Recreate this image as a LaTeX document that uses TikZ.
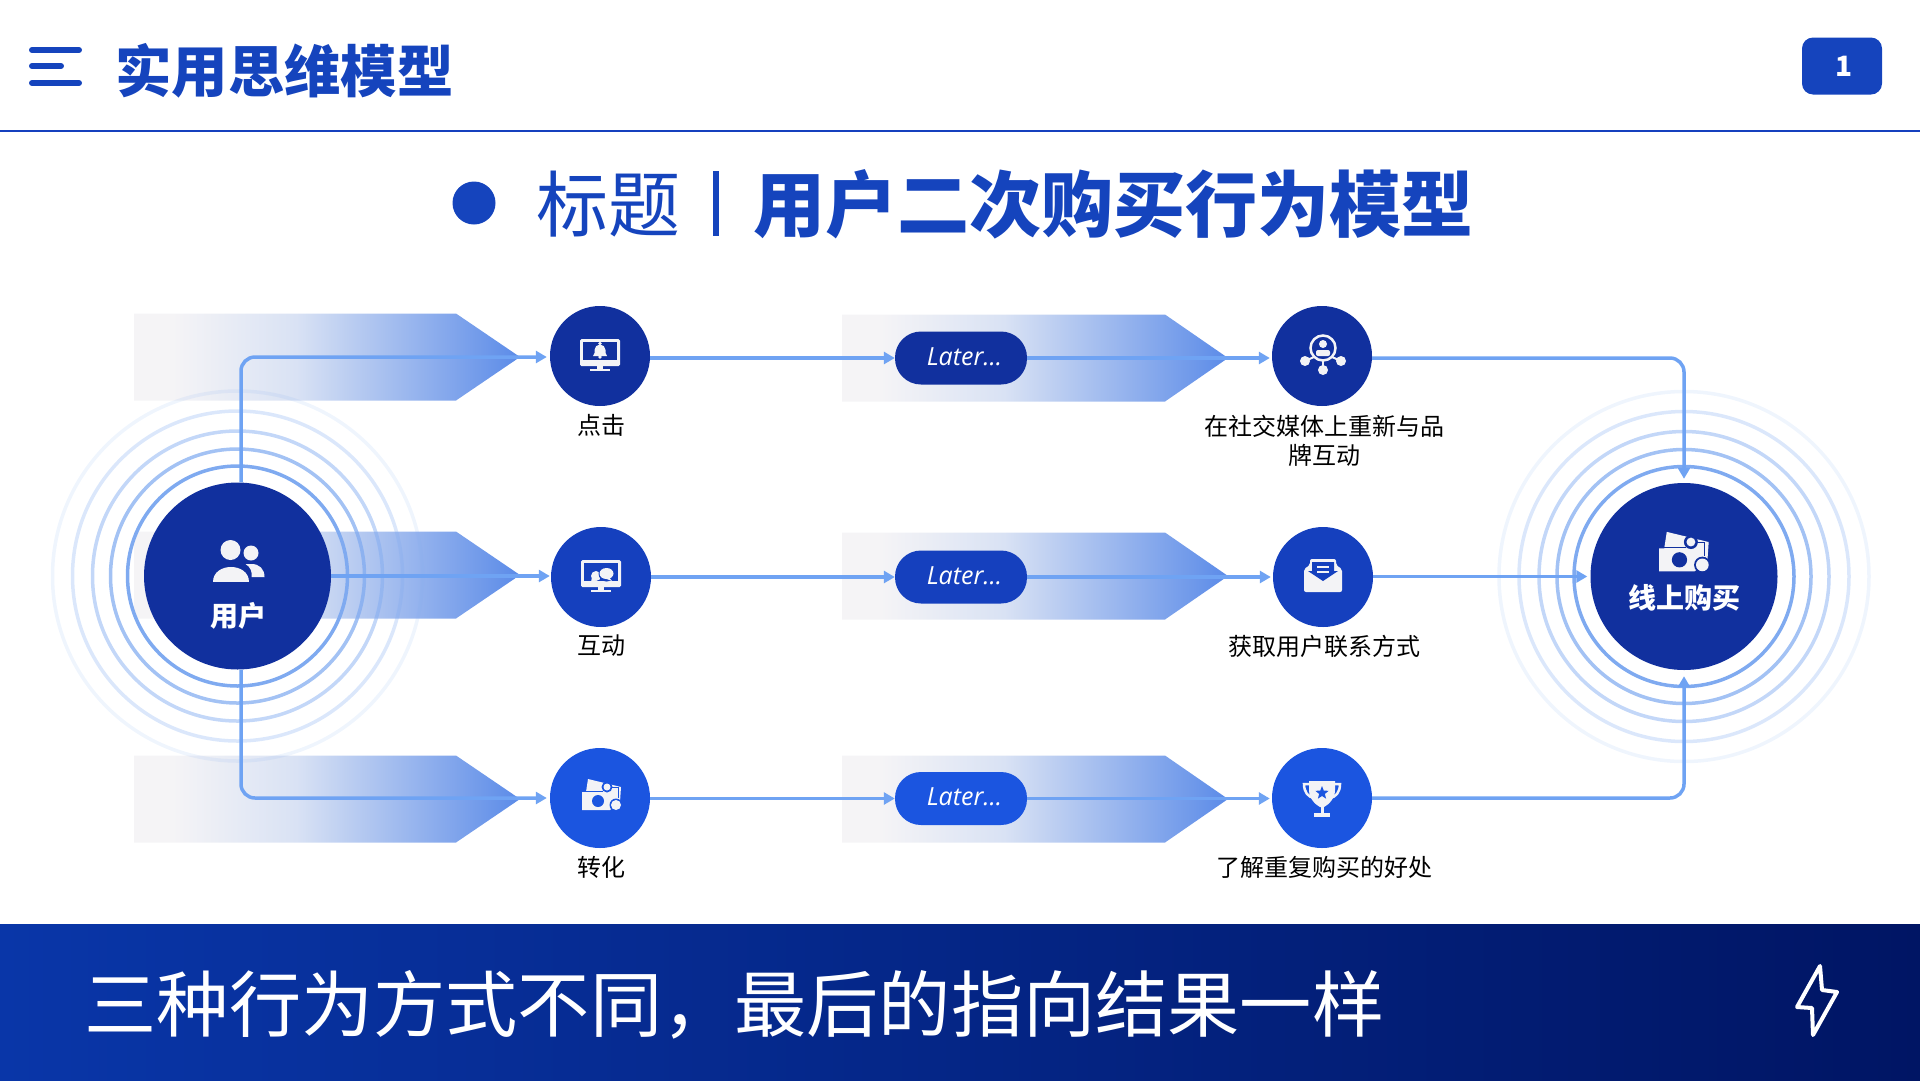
\documentclass[tikz,border=0pt]{standalone}
\usepackage{fontspec}
\usepackage{xcolor}
\setmainfont{Noto Sans CJK SC}
\newfontfamily\laterfont{Open Sans}
\usetikzlibrary{arrows.meta}

\definecolor{titleblue}{HTML}{1544BD}
\definecolor{rowa}{HTML}{11309E}
\definecolor{rowb}{HTML}{1540BE}
\definecolor{rowc}{HTML}{1B55E0}
\definecolor{linkblue}{HTML}{6FA3F3}
\definecolor{ringblue}{HTML}{7FAAF0}
\definecolor{bandlo}{HTML}{F5F4F6}
\definecolor{bandmid}{HTML}{D9E2F4}
\definecolor{bandhi}{HTML}{5B8BE8}
\definecolor{iconw}{HTML}{F3F3F6}
\definecolor{footl}{HTML}{0936A8}
\definecolor{footm}{HTML}{072F94}
\definecolor{footr}{HTML}{001564}

\pgfdeclarelayer{under}
\pgfsetlayers{under,main}
\pgfdeclarehorizontalshading{bandfade}{100bp}{color(0bp)=(bandlo); color(25bp)=(bandlo); color(30bp)=(bandlo); color(46bp)=(bandmid); color(75bp)=(bandhi); color(100bp)=(bandhi)}

\tikzset{
	dot/.style={circle,inner sep=0pt,minimum size=100pt},
	hub/.style={circle,inner sep=0pt,minimum size=187pt,fill=rowa},
	pill/.style={rectangle,rounded corners=26pt,inner sep=0pt,minimum width=132pt,minimum height=53pt,text=white,font=\laterfont\itshape\fontsize{25}{25}\selectfont},
	lab/.style={inner sep=0pt,align=center,text=black,font=\fontsize{24}{29}\selectfont},
	hublab/.style={inner sep=0pt,text=white,font=\bfseries\fontsize{28}{28}\selectfont},
	link/.style={draw=linkblue,line width=3.5pt},
	ring/.style={draw=ringblue,line width=3.5pt},
	band/.style={shading=bandfade},
	>={Triangle[length=11pt,width=12pt]}
}

\newcommand{\monitoricon}[2]{
	\begin{scope}[shift={(#1)}]
		\fill[iconw,rounded corners=1.5pt] (-20,-17) rectangle (20,10);
		\fill[#2] (-17,-14) rectangle (17,4);
		\fill[iconw] (-3,10) rectangle (3,13);
		\fill[iconw] (-10,13) rectangle (10,15);
	\end{scope}
}
\newcommand{\cashicon}[3]{
	\begin{scope}[shift={(#1)},scale=#3]
		\fill[iconw] (-12,-19) -- (21,-11) -- (20,4) -- (10,12) -- (-18,12) -- (-18,-6) -- (-14,-6) -- cycle;
		\draw[#2,line width=1pt] (-18,-6.5) -- (3,-6.5);
		\fill[#2] (-2,3) circle (6);
		\fill[#2] (7,-11) circle (5.5);
		\fill[iconw] (7,-11) circle (3.5);
		\draw[#2,line width=1pt] (12,-11) -- (18,-11) -- (18,0);
		\fill[#2] (16,7) circle (6.5);
		\fill[iconw] (16,7) circle (5);
	\end{scope}
}

\begin{document}
\begin{tikzpicture}[x=1pt,y=-1pt]
	\useasboundingbox (0,0) rectangle (1920,1080);

	% header
	\foreach \y/\e in {50/79,66/61,83/79}{
		\draw[titleblue,line width=6pt,line cap=round] (32,\y) -- (\e,\y);
	}
	\node[anchor=west,inner sep=0pt,text=titleblue,font=\bfseries\fontsize{56.4}{56.4}\selectfont] (head) at (115,71) {实用思维模型};
	\draw[draw=rowb,line width=2pt] (0,131) -- (1920,131);
	\node[fill=titleblue,rounded corners=11pt,minimum width=80pt,minimum height=57pt,inner sep=0pt,text=white,font=\bfseries\fontsize{28}{28}\selectfont] (pagenum) at (1842,66) {\hspace*{5pt}\raisebox{-4pt}{1}};

	% heading
	\fill[titleblue] (474,203) circle (21.5);
	\node[anchor=west,inner sep=0pt,text=titleblue,font=\fontsize{72}{72}\selectfont] (subj) at (536,204) {标题};
	\fill[titleblue] (713,171) rectangle (719,236);
	\node[anchor=west,inner sep=0pt,text=titleblue,font=\bfseries\fontsize{72}{72}\selectfont] (maintitle) at (753,204) {用户二次购买行为模型};

	% bands and rings
	\begin{pgfonlayer}{under}
		\foreach \y/\v in {357/358,575/576,799/799}{
			\shade[band] (134,\y-43.5) -- (456,\y-43.5) -- (520,\y) -- (456,\y+43.5) -- (134,\y+43.5) -- cycle;
			\shade[band] (842,\v-43.5) -- (1165,\v-43.5) -- (1228,\v) -- (1165,\v+43.5) -- (842,\v+43.5) -- cycle;
		}
		\foreach \r/\o in {110/1,127/.72,145/.47,165/.28,185/.12}{
			\draw[ring,opacity=\o] (237.5,576) circle (\r);
			\draw[ring,opacity=\o] (1684,576.5) circle (\r);
		}
	\end{pgfonlayer}

	% nodes
	\node[hub] (user) at (237.5,576) {};
	\node[hub] (buy) at (1684,576.5) {};

	\node[dot,fill=rowa] (click) at (600,356) {};
	\node[dot,fill=rowb] (talk) at (601,577) {};
	\node[dot,fill=rowc] (convert) at (600,798) {};

	\node[pill,fill=rowa] (latera) at (961,358) {\hspace*{7pt}\raisebox{3pt}{Later...}};
	\node[pill,fill=rowb] (laterb) at (961,577) {\hspace*{7pt}\raisebox{3pt}{Later...}};
	\node[pill,fill=rowc] (laterc) at (961,798.5) {\hspace*{7pt}\raisebox{3pt}{Later...}};

	\node[dot,fill=rowa] (social) at (1322,356) {};
	\node[dot,fill=rowb] (contact) at (1323,577) {};
	\node[dot,fill=rowc] (benefit) at (1322,798) {};

	% labels
	\node[lab] (clicklab) at (601,425) {点击};
	\node[lab] (talklab) at (601,646) {互动};
	\node[lab] (convertlab) at (601,867) {转化};
	\node[lab] (sociallab) at (1324,440.5) {在社交媒体上重新与品\\牌互动};
	\node[lab] (contactlab) at (1324,646) {获取用户联系方式};
	\node[lab] (benefitlab) at (1324,867) {了解重复购买的好处};
	\node[hublab] (userlab) at (238,616) {用户};
	\node[hublab] (buylab) at (1684,597.5) {线上购买};

	% connectors
	\draw[link,->,rounded corners=14pt] ([xshift=3.5pt]user.north) |- ([xshift=-3pt,yshift=-1pt]click.west);
	\draw[link,->] (user.east) -- ([xshift=-1pt]talk.west |- user.east);
	\draw[link,->,rounded corners=14pt] ([xshift=3.5pt]user.south) |- ([xshift=-3pt]convert.west);
	\draw[link,->] (click.east |- latera) -- (latera);
	\draw[link,->] (talk) -- (laterb);
	\draw[link,->] (convert.east |- laterc) -- (laterc);
	\draw[link,->] (latera) -- ([xshift=-2pt]social.west |- latera);
	\draw[link,->] (laterb) -- ([xshift=-2pt]contact.west);
	\draw[link,->] (laterc) -- ([xshift=-2pt]benefit.west |- laterc);
	\draw[link,->,rounded corners=14pt] (social.east |- latera) -| ([yshift=4pt]buy.north);
	\draw[link,->] (contact.east |- buy) -- ([xshift=-3pt]buy.west);
	\draw[link,->,rounded corners=14pt] (benefit.east) -| ([yshift=-6pt]buy.south);

	% icons
	\begin{scope}[shift={(user)}]
		\fill[iconw] (-7,-26) circle (10);
		\fill[iconw] (-25,6) .. controls (-25,-14) and (11,-14) .. (11,6) -- cycle;
		\fill[iconw] (13.5,-23) circle (7.5);
		\fill[iconw] (14,-12) .. controls (22,-12) and (27,-7) .. (27,1) -- (14,1) .. controls (15,-4) and (13,-9) .. (8,-12) -- cycle;
	\end{scope}
	\cashicon{1682,556}{rowa}{1.27}
	\monitoricon{click}{rowa}
	\begin{scope}[shift={(click)}]
		\fill[iconw] (0,-12.5) circle (1.8);
		\fill[iconw] (-7,0) .. controls (-5,-2) and (-5.5,-4) .. (-5.5,-6) .. controls (-5.5,-9) and (-3,-11.5) .. (0,-11.5) .. controls (3,-11.5) and (5.5,-9) .. (5.5,-6) .. controls (5.5,-4) and (5,-2) .. (7,0) -- cycle;
		\fill[iconw] (0,1) circle (1.8);
	\end{scope}
	\monitoricon{talk}{rowb}
	\begin{scope}[shift={(talk)}]
		\fill[iconw] (-5,-1) circle (5);
		\fill[iconw] (-9,0) -- (-10,5) -- (-4,3) -- cycle;
		\fill[rowb] (5.5,-3.5) circle (8);
		\fill[iconw] (5.5,-3.5) ellipse (7 and 5.5);
		\fill[iconw] (8,0) -- (11,4) -- (3,1) -- cycle;
	\end{scope}
	\cashicon{convert}{rowc}{1}
	\begin{scope}[shift={(social)}]
		\draw[iconw,line width=2.5pt] (1,-8) circle (12.5);
		\fill[iconw] (1,-12) circle (4);
		\fill[iconw,rounded corners=2pt] (-6,-6) rectangle (8,0);
		\draw[iconw,line width=2pt] (-17,5) -- (-8,1);
		\draw[iconw,line width=2pt] (19,5) -- (10,1);
		\draw[iconw,line width=2pt] (1,5) -- (1,14);
		\fill[iconw] (-17,5) circle (5);
		\fill[iconw] (19,5) circle (5);
		\fill[iconw] (1,14) circle (5);
	\end{scope}
	\begin{scope}[shift={(contact)}]
		\fill[iconw,rounded corners=2pt] (-19,-8) -- (-13,-12) -- (-13,-18) -- (13,-18) -- (13,-12) -- (19,-8) -- (19,15) -- (-19,15) -- cycle;
		\fill[rowb] (-11,-15) -- (11,-15) -- (11,-6) -- (15,-6) -- (0,4) -- (-15,-6) -- (-11,-6) -- cycle;
		\fill[iconw] (-6,-11.5) rectangle (6,-9.5);
		\fill[iconw] (-6,-6.5) rectangle (6,-4.5);
	\end{scope}
	\begin{scope}[shift={(benefit)}]
		\draw[iconw,line width=2.5pt] (-12,-14) -- (-18,-14) .. controls (-18,-6) and (-14,-1) .. (-8,0);
		\draw[iconw,line width=2.5pt] (12,-14) -- (18,-14) .. controls (18,-6) and (14,-1) .. (8,0);
		\fill[iconw] (-13,-17) -- (13,-17) -- (13,-8) .. controls (13,1) and (6,7) .. (2,9) -- (-2,9) .. controls (-6,7) and (-13,1) .. (-13,-8) -- cycle;
		\fill[iconw] (-1.5,9) rectangle (1.5,15);
		\fill[iconw] (-8,15) rectangle (8,19);
		\fill[rowc,shift={(0,-5)}] (-90:7) -- (-54:3) -- (-18:7) -- (18:3) -- (54:7) -- (90:3) -- (126:7) -- (162:3) -- (198:7) -- (234:3) -- cycle;
	\end{scope}

	% footer
	\shade[left color=footl,middle color=footm,right color=footr] (0,924) rectangle (1920,1080);
	\node[anchor=west,inner sep=0pt,text=white,font=\fontsize{72.2}{72.2}\selectfont] (foottext) at (84.5,1005) {三种行为方式不同，最后的指向结果一样};
	\draw[white,line width=4pt,line join=round] (1820,966) -- (1797,1007) -- (1812,1008) -- (1813,1035) -- (1837,992) -- (1822,990) -- cycle;
\end{tikzpicture}
\end{document}
